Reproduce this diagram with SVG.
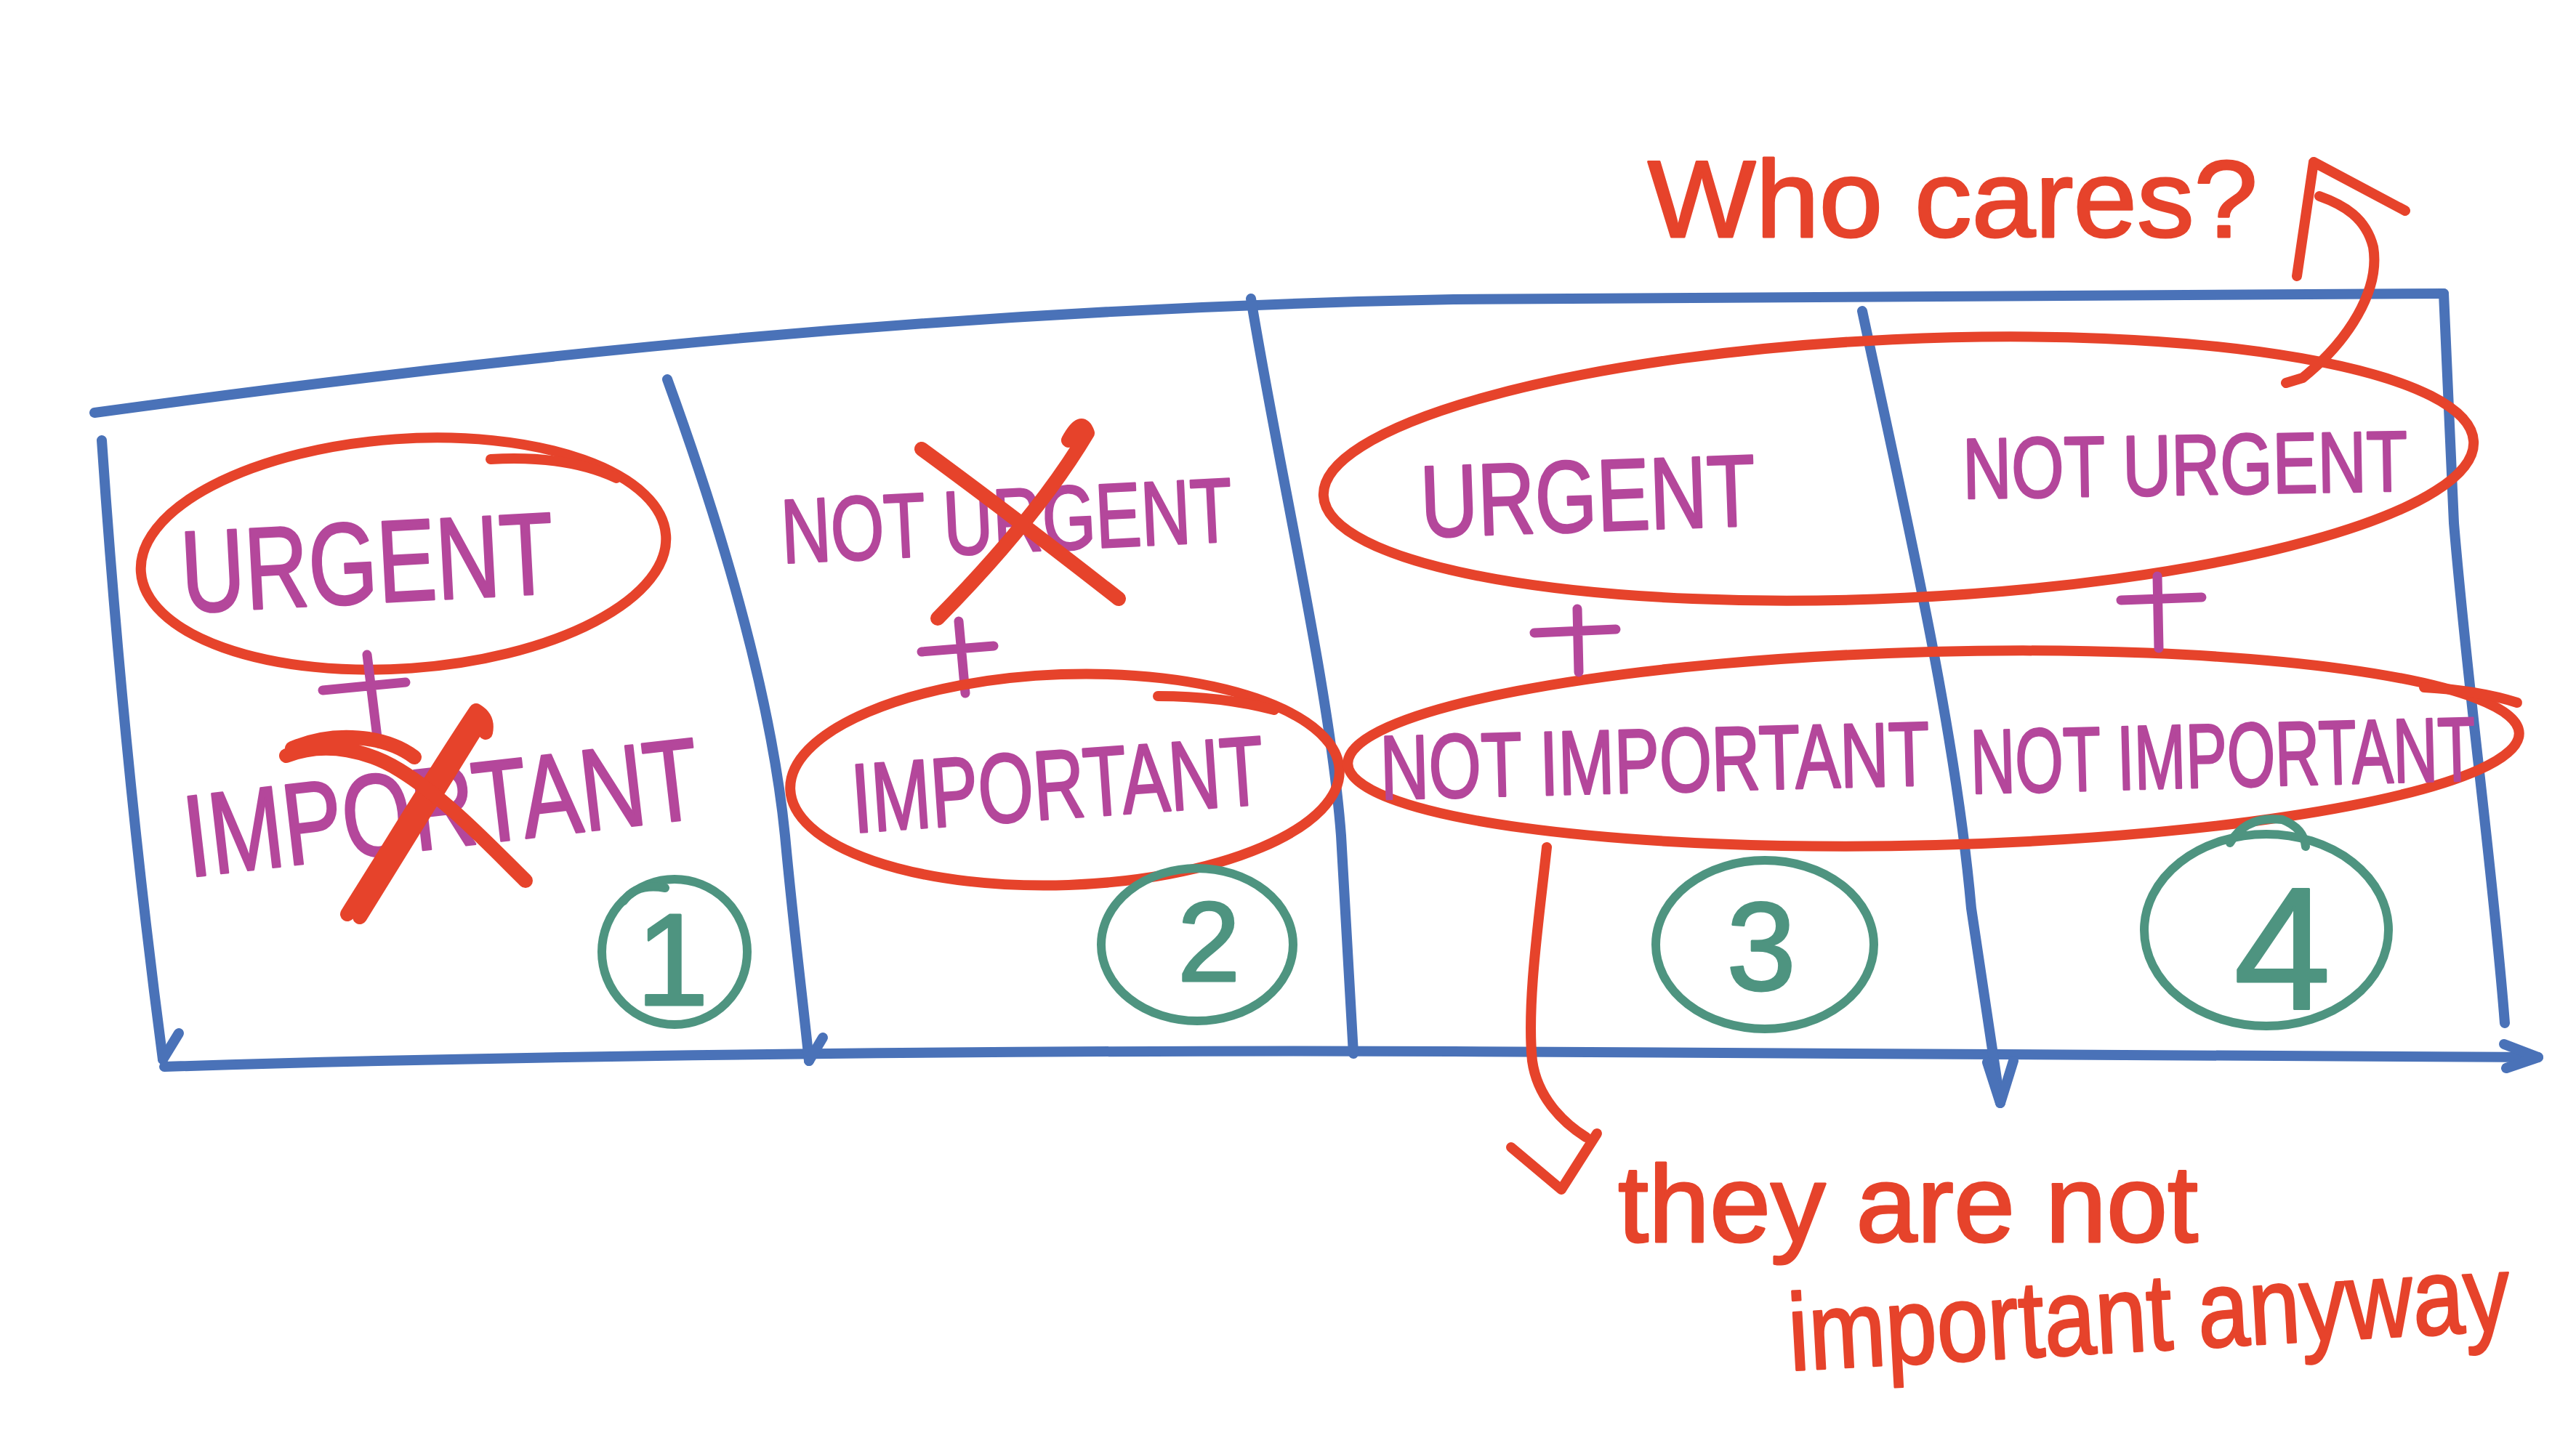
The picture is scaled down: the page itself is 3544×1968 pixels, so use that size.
<svg xmlns="http://www.w3.org/2000/svg" width="3544" height="1968" viewBox="0 0 3544 1968">
<style>
  .blue{fill:none;stroke:#4a72b8;stroke-width:14;stroke-linecap:round;stroke-linejoin:round}
  .red{fill:none;stroke:#e6432b;stroke-width:14;stroke-linecap:round;stroke-linejoin:round}
  .redx{fill:none;stroke:#e6432b;stroke-width:20;stroke-linecap:round;stroke-linejoin:round}
  .green{fill:none;stroke:#4e9480;stroke-width:12;stroke-linecap:round}
  .mag{fill:none;stroke:#b4479b;stroke-width:13;stroke-linecap:round}
  .t{font-family:"Liberation Sans",Arial,sans-serif;stroke-width:3;stroke-linejoin:round}
  .tm{fill:#b4479b;stroke:#b4479b}
  .tr{fill:#e6432b;stroke:#e6432b}
  .tg{fill:#4e9480;stroke:#4e9480}
</style>
<rect width="3544" height="1968" fill="#ffffff"/>

<g id="frame">
  <path class="blue" d="M130,568 C700,490 1300,425 2000,412 L3362,404"/>
  <path class="blue" d="M3362,404 L3376,720 C3395,950 3430,1200 3446,1408"/>
  <path class="blue" d="M140,606 C160,900 190,1200 224,1458"/>
  <path class="blue" d="M246,1422 L224,1458"/>
  <path class="blue" d="M226,1468 C800,1450 1500,1445 2000,1447 L3492,1455"/>
  <path class="blue" d="M3445,1437 L3492,1455 L3448,1470"/>
  <path class="blue" d="M918,522 C990,720 1060,950 1080,1150 C1092,1280 1105,1380 1113,1460"/>
  <path class="blue" d="M1132,1428 L1113,1460"/>
  <path class="blue" d="M1721,411 C1760,650 1830,950 1845,1150 L1862,1450"/>
  <path class="blue" d="M2562,428 C2620,700 2690,1000 2712,1250 L2752,1518"/>
  <path class="blue" d="M2734,1462 L2752,1518 L2770,1460"/>
</g>

<g id="cell-1">
  <ellipse class="red" cx="555" cy="762" rx="362" ry="158" transform="rotate(-4 555 762)"/>
  <path class="red" d="M675,632 Q780,626 848,658"/>
  <text class="t tm" x="252" y="843" font-size="160" textLength="513" lengthAdjust="spacingAndGlyphs" transform="rotate(-3 252 843)">URGENT</text>
  <path class="mag" d="M444,950 L558,939 M505,901 L520,1023"/>
  <text class="t tm" x="260" y="1207" font-size="160" textLength="712" lengthAdjust="spacingAndGlyphs" transform="rotate(-6.6 260 1207)">IMPORTANT</text>
  <path class="redx" d="M478,1258 C540,1160 600,1060 655,978 M495,1262 C555,1165 610,1075 662,992 M655,978 Q672,988 668,1008"/>
  <path class="redx" d="M394,1040 C450,1018 510,1035 550,1060 C615,1100 680,1170 723,1212 M402,1030 C460,1005 530,1012 570,1042"/>
  <ellipse class="green" cx="928" cy="1310" rx="100" ry="100"/>
  <path class="green" d="M858,1240 Q875,1215 915,1222"/>
  <text class="t tg" x="925" y="1383" font-size="180" text-anchor="middle">1</text>
</g>

<g id="cell-2">
  <text class="t tm" x="1077" y="775" font-size="125" textLength="621" lengthAdjust="spacingAndGlyphs" transform="rotate(-2.8 1077 775)">NOT URGENT</text>
  <path class="redx" d="M1268,618 C1380,700 1470,770 1539,824"/>
  <path class="redx" d="M1470,606 Q1488,572 1496,596 C1440,690 1360,780 1290,851"/>
  <path class="mag" d="M1268,897 L1367,889 M1319,855 L1328,954"/>
  <ellipse class="red" cx="1465" cy="1073" rx="378" ry="145" transform="rotate(-2 1465 1073)"/>
  <path class="red" d="M1593,958 Q1680,958 1753,977"/>
  <text class="t tm" x="1175" y="1146" font-size="135" textLength="568" lengthAdjust="spacingAndGlyphs" transform="rotate(-4 1175 1146)">IMPORTANT</text>
  <ellipse class="green" cx="1647" cy="1300" rx="132" ry="105"/>
  <text class="t tg" x="1663" y="1350" font-size="155" text-anchor="middle">2</text>
</g>

<g id="urgent-group">
  <ellipse class="red" cx="2612" cy="645" rx="792" ry="178" transform="rotate(-2.7 2612 645)"/>
</g>

<g id="not-important-group">
  <ellipse class="red" cx="2660" cy="1030" rx="806" ry="133" transform="rotate(-1.5 2660 1030)"/>
  <path class="red" d="M3335,946 Q3410,950 3463,967"/>
</g>

<g id="cell-3">
  <text class="t tm" x="1956" y="739" font-size="140" textLength="461" lengthAdjust="spacingAndGlyphs" transform="rotate(-2 1956 739)">URGENT</text>
  <path class="mag" d="M2111,871 L2223,866 M2170,838 L2172,925"/>
  <text class="t tm" x="1900" y="1100" font-size="125" textLength="756" lengthAdjust="spacingAndGlyphs" transform="rotate(-1.5 1900 1100)">NOT IMPORTANT</text>
  <ellipse class="green" cx="2428" cy="1300" rx="150" ry="116"/>
  <text class="t tg" x="2423" y="1362" font-size="172" text-anchor="middle">3</text>
</g>

<g id="cell-4">
  <text class="t tm" x="2701" y="686" font-size="118" textLength="612" lengthAdjust="spacingAndGlyphs" transform="rotate(-1 2701 686)">NOT URGENT</text>
  <path class="mag" d="M2918,826 L3029,822 M2968,793 L2970,892"/>
  <text class="t tm" x="2712" y="1092" font-size="125" textLength="695" lengthAdjust="spacingAndGlyphs" transform="rotate(-1.5 2712 1092)">NOT IMPORTANT</text>
  <ellipse class="green" cx="3118" cy="1280" rx="168" ry="132"/>
  <path class="green" d="M3068,1160 Q3090,1122 3140,1128 Q3170,1140 3172,1165"/>
  <text class="t tg" x="3140" y="1388" font-size="240" text-anchor="middle">4</text>
</g>

<g id="who-cares">
  <text class="t tr" x="2267" y="326" font-size="150" textLength="839" lengthAdjust="spacingAndGlyphs">Who cares?</text>
</g>

<g id="not-important-note">
  <text class="t tr" x="2226" y="1709" font-size="150" textLength="798" lengthAdjust="spacingAndGlyphs">they are not</text>
  <text class="t tr" x="2463" y="1886" font-size="150" textLength="994" lengthAdjust="spacingAndGlyphs" transform="rotate(-3.2 2463 1886)">important anyway</text>
</g>

<g id="connectors">
  <path class="red" d="M3145,527 L3168,520 C3230,470 3275,400 3265,340 C3255,300 3225,282 3191,270"/>
  <path class="red" d="M3160,380 L3183,223 L3309,290"/>
  <path class="red" d="M2128,1166 C2118,1260 2100,1380 2108,1460 C2115,1510 2150,1545 2182,1565"/>
  <path class="red" d="M2079,1579 L2148,1637 L2197,1560"/>
</g>
</svg>
